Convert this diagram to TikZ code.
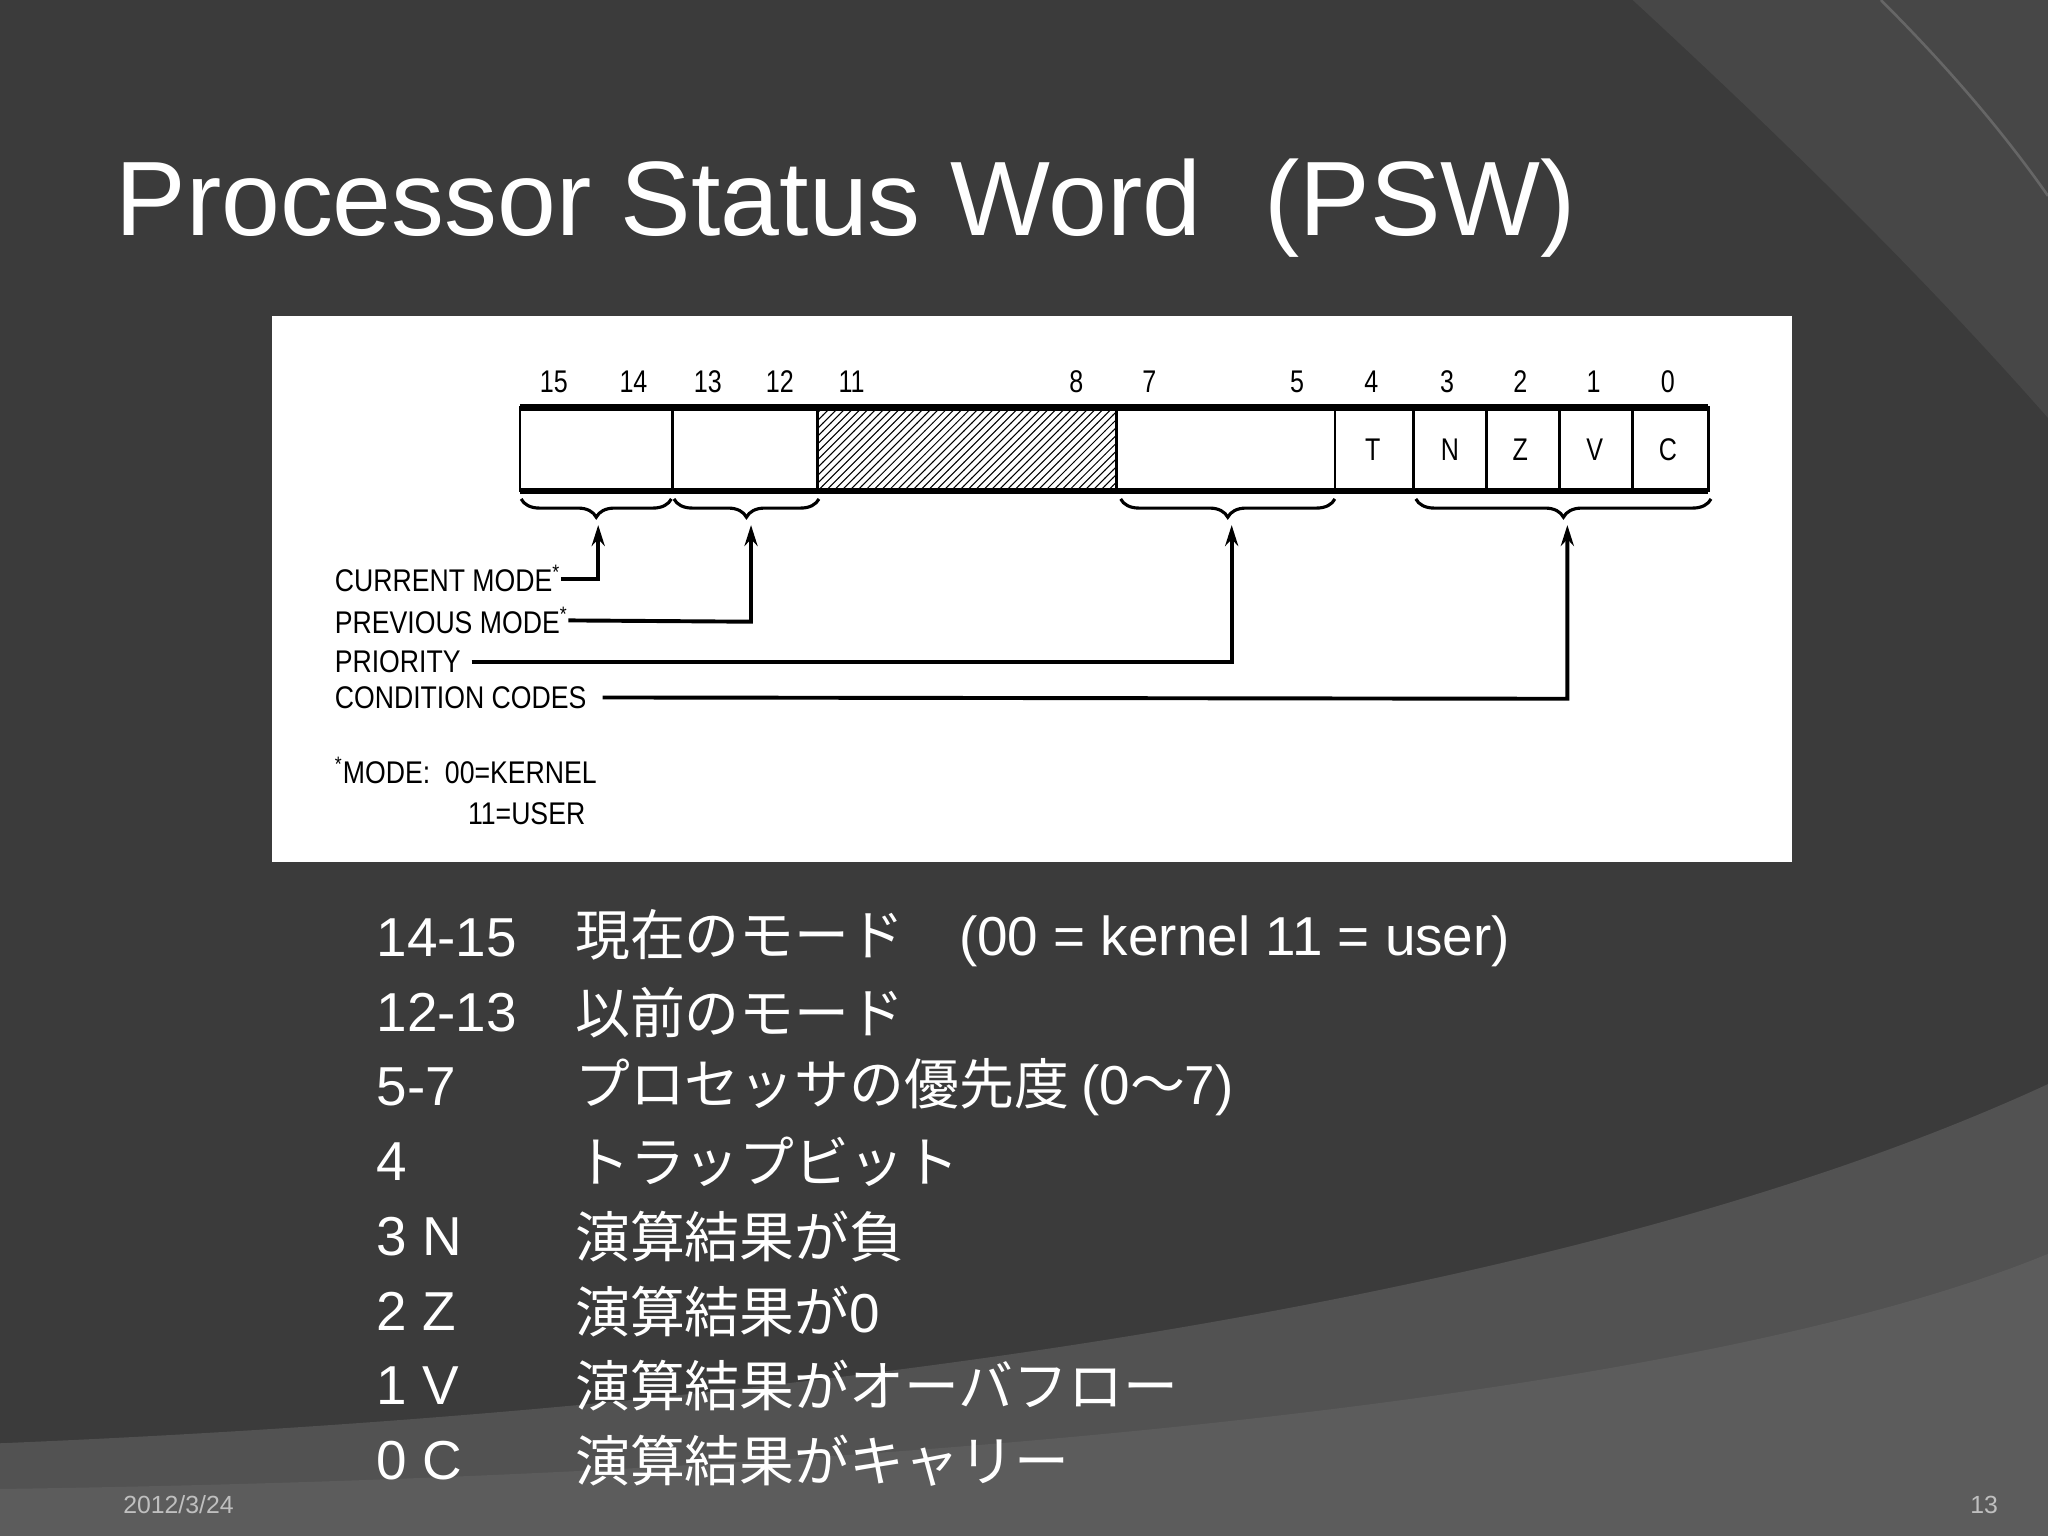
\documentclass[tikz,border=0pt]{standalone}
\usepackage{fontspec}
\setmainfont{Liberation Sans}
\newfontfamily\jp{Noto Sans CJK JP}
\usetikzlibrary{patterns,decorations.pathreplacing,arrows.meta}
\begin{document}
\begin{tikzpicture}[x=0.5pt,y=-0.5pt,
  lbl/.style={font=\fontsize{12}{12}\selectfont,xscale=0.85,anchor=west,inner sep=0pt,text=black},
  bitnum/.style={font=\fontsize{12}{12}\selectfont,xscale=0.8,text=black,inner sep=0pt},
  cell/.style={draw=black,line width=1pt,fill=white},
  br/.style={decorate,decoration={brace,mirror,amplitude=7pt},draw=black,line width=1.2pt},
  lead/.style={draw=black,line width=1.5pt},
  tip/.style={-{Stealth[length=8pt,width=5pt]}},
  body/.style={font=\fontsize{21}{21}\selectfont,text=white,anchor=west,inner sep=0pt},
  bodyjp/.style={font=\jp\fontsize{21}{21}\selectfont,text=white,anchor=west,inner sep=0pt}]
\useasboundingbox (0,0) rectangle (1568,1176);
\fill[black!77] (0,0) rectangle (1568,1176);
% decorative arcs
\fill[black!72] (1250,0) .. controls (1380,120) and (1480,220) .. (1568,320) -- (1568,0) -- cycle;
\draw[black!60,line width=1pt] (1440,0) .. controls (1500,60) and (1540,110) .. (1568,150);
\fill[black!68] (0,1105) .. controls (600,1080) and (1200,1000) .. (1568,830) -- (1568,1176) -- (0,1176) -- cycle;
\fill[black!64] (0,1140) .. controls (700,1130) and (1300,1070) .. (1568,960) -- (1568,1176) -- (0,1176) -- cycle;
% title
\node[font=\fontsize{40.5}{40.5}\selectfont,text=white,anchor=base west,inner sep=0pt] (title) at (88,180) {Processor Status Word\hspace{0.6em}(PSW)};
% diagram panel
\fill[white] (208,242) rectangle (1372,660);
% register cells
\draw[cell] (398,312) rectangle (515,376);
\draw[cell] (515,312) rectangle (626,376);
\draw[cell,pattern=north east lines] (626,312) rectangle (855,376);
\draw[cell] (855,312) rectangle (1022,376);
\draw[cell] (1022,312) rectangle (1082,376);
\draw[cell] (1082,312) rectangle (1138,376);
\draw[cell] (1138,312) rectangle (1194,376);
\draw[cell] (1194,312) rectangle (1250,376);
\draw[cell] (1250,312) rectangle (1308,376);
\draw[black,line width=2.5pt] (398,312) -- (1308,312) (398,376) -- (1308,376);
\foreach \n/\x in {15/424,14/485,13/542,12/597,11/652,8/824,7/880,5/993,4/1050,3/1108,2/1164,1/1220,0/1277}
  \node[bitnum] (b\n) at (\x,292) {\n};
\foreach \t/\x in {T/1051,N/1110,Z/1164,V/1221,C/1277}
  \node[bitnum] (f\t) at (\x,344) {\t};
% braces
\draw[br] (399,382) -- (514,382);
\draw[br] (516,382) -- (627,382);
\draw[br] (858,382) -- (1022,382);
\draw[br] (1084,382) -- (1310,382);
\coordinate (t1) at (458,402);
\coordinate (t2) at (575,402);
\coordinate (t3) at (943,402);
\coordinate (t4) at (1200,402);
% labels
\node[lbl] (cur) at (256,443) {CURRENT MODE\textsuperscript{*}};
\node[lbl] (prev) at (256,475) {PREVIOUS MODE\textsuperscript{*}};
\node[lbl] (pri) at (256,507) {PRIORITY};
\node[lbl] (cc) at (256,534) {CONDITION CODES};
\node[lbl] (m1) at (256,590) {\textsuperscript{*}MODE:\ \ 00=KERNEL};
\node[lbl] (m2) at (358,623) {11=USER};
\draw[lead,tip] (cur.east) -- (458,443) -- (t1);
\draw[lead,tip] (prev.east) -- (575,476) -- (t2);
\draw[lead,tip] ([xshift=4]pri.east) -- (943,507) -- (t3);
\draw[lead,tip] ([xshift=6]cc.east) -- (1200,535) -- (t4);
% body text
\foreach \i/\a/\b in {0/14-15/{現在のモード　{\rmfamily (00 = kernel 11 = user)}},1/12-13/以前のモード,2/5-7/{プロセッサの優先度 {\rmfamily (0}～{\rmfamily 7)}},3/4/トラップビット,4/3 N/演算結果が負,5/2 Z/演算結果が{\rmfamily 0},6/1 V/演算結果がオーバフロー,7/0 C/演算結果がキャリー}{
  \node[body] (l\i) at (288,718+57.2*\i) {\a};
  \node[bodyjp] (r\i) at (440,718+57.2*\i) {\b};
}
\node[font=\fontsize{9.5}{9.5}\selectfont,text=black!25,anchor=west,inner sep=0pt] (date) at (94,1152) {2012/3/24};
\node[font=\fontsize{9.5}{9.5}\selectfont,text=black!25,anchor=east,inner sep=0pt] (pg) at (1530,1152) {13};
\end{tikzpicture}
\end{document}
